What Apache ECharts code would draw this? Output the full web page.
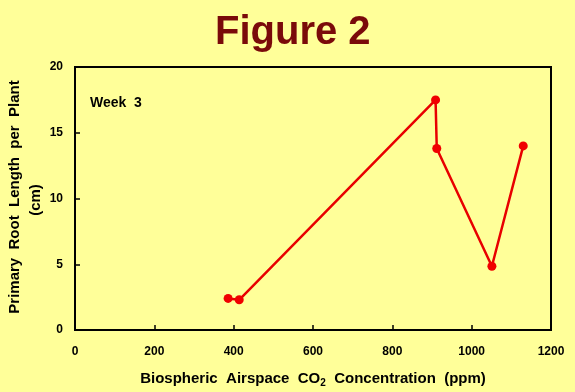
<!DOCTYPE html>
<html><head><meta charset="utf-8">
<script src="https://cdn.jsdelivr.net/npm/echarts@6/dist/echarts.min.js"></script>
<style>html,body{margin:0;padding:0;background:#FFFF99;}#c{width:575px;height:392px;}</style>
</head><body><div id="c"></div>
<script>
const co2 = [386, 414, 909, 912, 1051, 1130];
const rootLength = [2.4, 2.3, 17.5, 13.8, 4.85, 14.0];
const xTicks = [0, 200, 400, 600, 800, 1000, 1200];
const yTicks = [0, 5, 10, 15, 20];
const titleText = 'Figure 2';
const weekLabel = 'Week  3';
const yNameLines = ['Primary  Root  Length  per  Plant', '(cm)'];

const chart = echarts.init(document.getElementById('c'));
const ff = '"Liberation Sans", Arial, sans-serif';
chart.setOption({
  backgroundColor: '#FFFF99',
  animation: false,
  title: {
    text: titleText, left: 210, top: 8,
    textStyle: { fontFamily: ff, fontSize: 40, fontWeight: 'bold', color: '#7A0A0A' }
  },
  grid: { left: 75, right: 24, top: 67, bottom: 62, containLabel: false, outerBoundsMode: 'none',
          show: true, borderColor: '#000', borderWidth: 2, backgroundColor: 'transparent' },
  graphic: [{
    type: 'text', left: 90, top: 96,
    style: { text: weekLabel, fontFamily: ff, fontSize: 14, fontWeight: 'bold', fill: '#000' }
  }, {
    type: 'text', x: 15, y: 197, rotation: Math.PI / 2,
    style: { text: yNameLines[0], fontFamily: ff, fontSize: 15, fontWeight: 'bold', fill: '#000', align: 'center', verticalAlign: 'middle' }
  }, {
    type: 'text', x: 36, y: 200, rotation: Math.PI / 2,
    style: { text: yNameLines[1], fontFamily: ff, fontSize: 15, fontWeight: 'bold', fill: '#000', align: 'center', verticalAlign: 'middle' }
  }],
  xAxis: {
    type: 'value', min: xTicks[0], max: xTicks[xTicks.length - 1], interval: 200,
    axisLine: { lineStyle: { color: '#000', width: 2 } },
    axisTick: { inside: true, length: 5, lineStyle: { color: '#000', width: 1.5 } },
    splitLine: { show: false },
    axisLabel: { margin: 16, fontFamily: ff, fontSize: 12, fontWeight: 'bold', color: '#000', formatter: v => String(v) },
    name: '{a|Biospheric  Airspace  CO}{s|2}{a|  Concentration  (ppm)}',
    nameLocation: 'middle', nameGap: 40,
    nameTextStyle: {
      rich: {
        a: { fontFamily: ff, fontSize: 15, fontWeight: 'bold', color: '#000' },
        s: { fontFamily: ff, fontSize: 10, fontWeight: 'bold', color: '#000', verticalAlign: 'bottom', padding: [8, 0, 0, 0] }
      }
    }
  },
  yAxis: {
    type: 'value', min: yTicks[0], max: yTicks[yTicks.length - 1], interval: 5,
    axisLine: { show: true, lineStyle: { color: '#000', width: 2 } },
    axisTick: { show: true, inside: true, length: 5, lineStyle: { color: '#000', width: 1.5 } },
    splitLine: { show: false },
    axisLabel: { margin: 12, fontFamily: ff, fontSize: 12, fontWeight: 'bold', color: '#000', formatter: v => String(v) }
  },
  series: [{
    type: 'line',
    data: co2.map((x, i) => [x, rootLength[i]]),
    symbol: 'circle', symbolSize: 9,
    lineStyle: { color: '#E80000', width: 2.5 },
    itemStyle: { color: '#F00000' }
  }]
});
</script></body></html>
